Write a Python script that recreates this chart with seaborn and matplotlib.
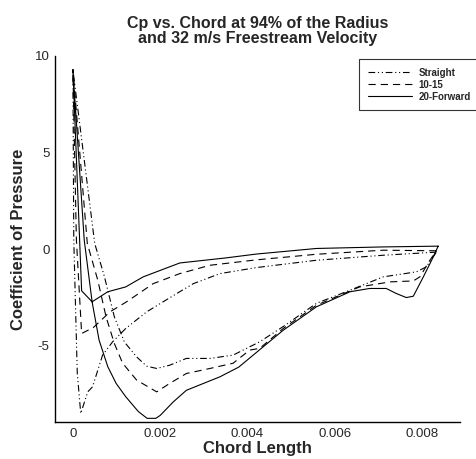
import matplotlib
matplotlib.use("Agg")
import matplotlib.pyplot as plt
import seaborn as sns
import pandas as pd
from matplotlib.ticker import MultipleLocator, FixedLocator, FixedFormatter

# ---------------- data ----------------
series_names = ["Straight", "10-15", "20-Forward"]

straight_x = [0.00833, 0.00711, 0.00558, 0.0042, 0.00337, 0.00276, 0.00238, 0.00169,
              0.00121, 0.00091, 0.00068, 0.00045, 0.00034, 0.00018, 0.0001, 0.00002,
              0.0, 0.0005, 0.00072, 0.00095, 0.00118, 0.00146, 0.00169, 0.00192,
              0.00222, 0.0026, 0.00314, 0.00367, 0.00405, 0.00428, 0.00482, 0.00558,
              0.00635, 0.00711, 0.00787, 0.0081, 0.00833]
straight_cp = [-0.15, -0.31, -0.57, -0.95, -1.26, -1.78, -2.29, -3.24,
               -4.1, -4.79, -5.48, -7.12, -7.38, -8.5, -6.4, 0.5,
               9.3, 0.3, -1.4, -3.5, -4.8, -5.57, -6.05, -6.17,
               -6.0, -5.65, -5.65, -5.48, -5.05, -4.79, -4.0, -2.8,
               -2.12, -1.43, -1.17, -0.91, -0.15]

ten15_x = [0.00833, 0.00711, 0.00558, 0.0042, 0.00314, 0.00245, 0.00184, 0.00123,
           0.00085, 0.00047, 0.0002, 0.00008, 0.0, 0.00033, 0.00057, 0.00076,
           0.00095, 0.00114, 0.00146, 0.00192, 0.00222, 0.0026, 0.00314, 0.00367,
           0.00405, 0.00428, 0.00482, 0.00558, 0.00612, 0.00657, 0.00726, 0.0078,
           0.00795, 0.00818, 0.00833]
ten15_cp = [-0.08, -0.05, -0.26, -0.55, -0.83, -1.26, -1.78, -2.72,
            -3.24, -4.05, -4.36, 0.5, 9.3, 0.3, -1.6, -3.5,
            -4.88, -5.9, -6.77, -7.38, -6.94, -6.43, -6.17, -5.9,
            -5.22, -5.13, -4.1, -2.9, -2.38, -1.95, -1.69, -1.64,
            -1.43, -0.57, -0.08]

fwd_x = [0.00837, 0.00711, 0.00558, 0.0042, 0.0035, 0.00245, 0.00161, 0.00121,
         0.0008, 0.00044, 0.0002, 0.0, 0.00026, 0.00044, 0.0006, 0.0008,
         0.00099, 0.00121, 0.0015, 0.0017, 0.0019, 0.002, 0.0023, 0.0026,
         0.00337, 0.0038, 0.00428, 0.00482, 0.00558, 0.00635, 0.0068, 0.00718,
         0.00741, 0.00764, 0.0078, 0.00803, 0.00822, 0.00837]
fwd_cp = [0.16, 0.12, 0.04, -0.25, -0.45, -0.71, -1.43, -1.95,
          -2.2, -2.72, -2.15, 9.3, 0.47, -2.72, -4.7, -6.08,
          -6.94, -7.63, -8.4, -8.75, -8.75, -8.6, -7.9, -7.3,
          -6.6, -6.1, -5.2, -4.19, -2.98, -2.2, -2.03, -2.03,
          -2.29, -2.5, -2.43, -1.43, -0.57, 0.16]

x_ticks = [0.0, 0.002, 0.004, 0.006, 0.008]
x_tick_labels = ["0", "0.002", "0.004", "0.006", "0.008"]
y_ticks = [-5, 0, 5, 10]
y_tick_labels = ["-5", "0", "5", "10"]

title_text = "Cp vs. Chord at 94% of the Radius\nand 32 m/s Freestream Velocity"
x_label = "Chord Length"
y_label = "Coefficient of Pressure"

# ---------------- styling ----------------
sns.set_style("white")
plt.rcParams["font.family"] = ["Liberation Sans", "DejaVu Sans"]

frames = []
for name, xs, ys in [(series_names[0], straight_x, straight_cp),
                     (series_names[1], ten15_x, ten15_cp),
                     (series_names[2], fwd_x, fwd_cp)]:
    frames.append(pd.DataFrame({"x": xs, "cp": ys, "series": name, "order": range(len(xs))}))
df = pd.concat(frames, ignore_index=True)

line_styles = {
    "Straight": (0, (6, 2.5, 1, 2.5, 1, 2.5)),
    "10-15": (0, (6.5, 4.5)),
    "20-Forward": "-",
}

fig = plt.figure(figsize=(4.76, 4.59), dpi=100)
ax = fig.add_axes([55 / 476, 1 - 422 / 459, (460 - 55) / 476, (422 - 56) / 459])

for name in series_names:
    sub = df[df["series"] == name].sort_values("order")
    sns.lineplot(data=sub, x="x", y="cp", sort=False, estimator=None, ax=ax,
                 color="black", linewidth=0.8, linestyle=line_styles[name], label=name)

ax.set_xlim(-0.00041, 0.00887)
ax.set_ylim(-8.94, 10)

ax.xaxis.set_major_locator(FixedLocator(x_ticks))
ax.xaxis.set_major_formatter(FixedFormatter(x_tick_labels))
ax.xaxis.set_minor_locator(MultipleLocator(0.0004))
ax.yaxis.set_major_locator(FixedLocator(y_ticks))
ax.yaxis.set_major_formatter(FixedFormatter(y_tick_labels))
ax.yaxis.set_minor_locator(MultipleLocator(1))

ax.tick_params(which="both", direction="in", color="black", width=1.0)
ax.tick_params(which="major", length=6, labelsize=9.5, pad=4)
ax.tick_params(which="minor", length=3)

for side in ["top", "right"]:
    ax.spines[side].set_visible(False)
for side in ["left", "bottom"]:
    ax.spines[side].set_color("black")
    ax.spines[side].set_linewidth(1.0)

ax.set_xlabel(x_label, fontsize=12, fontweight="bold", labelpad=1)
ax.set_ylabel(y_label, fontsize=12, fontweight="bold", labelpad=6)
ax.set_title(title_text, fontsize=11.5, fontweight="bold", pad=9, linespacing=1.05)

handles, labels = ax.get_legend_handles_labels()
ax.get_legend().remove()
leg = fig.legend(handles, labels, loc="upper left",
                 bbox_to_anchor=(359 / 476, 1 - 59 / 459),
                 prop={"size": 7, "weight": "bold"}, frameon=True, fancybox=False,
                 edgecolor="black", handlelength=4.6, handletextpad=0.6,
                 labelspacing=0.2, borderpad=0.9, borderaxespad=0)
leg.get_frame().set_linewidth(0.8)

fig.savefig("out.png", dpi=100, facecolor="white")
